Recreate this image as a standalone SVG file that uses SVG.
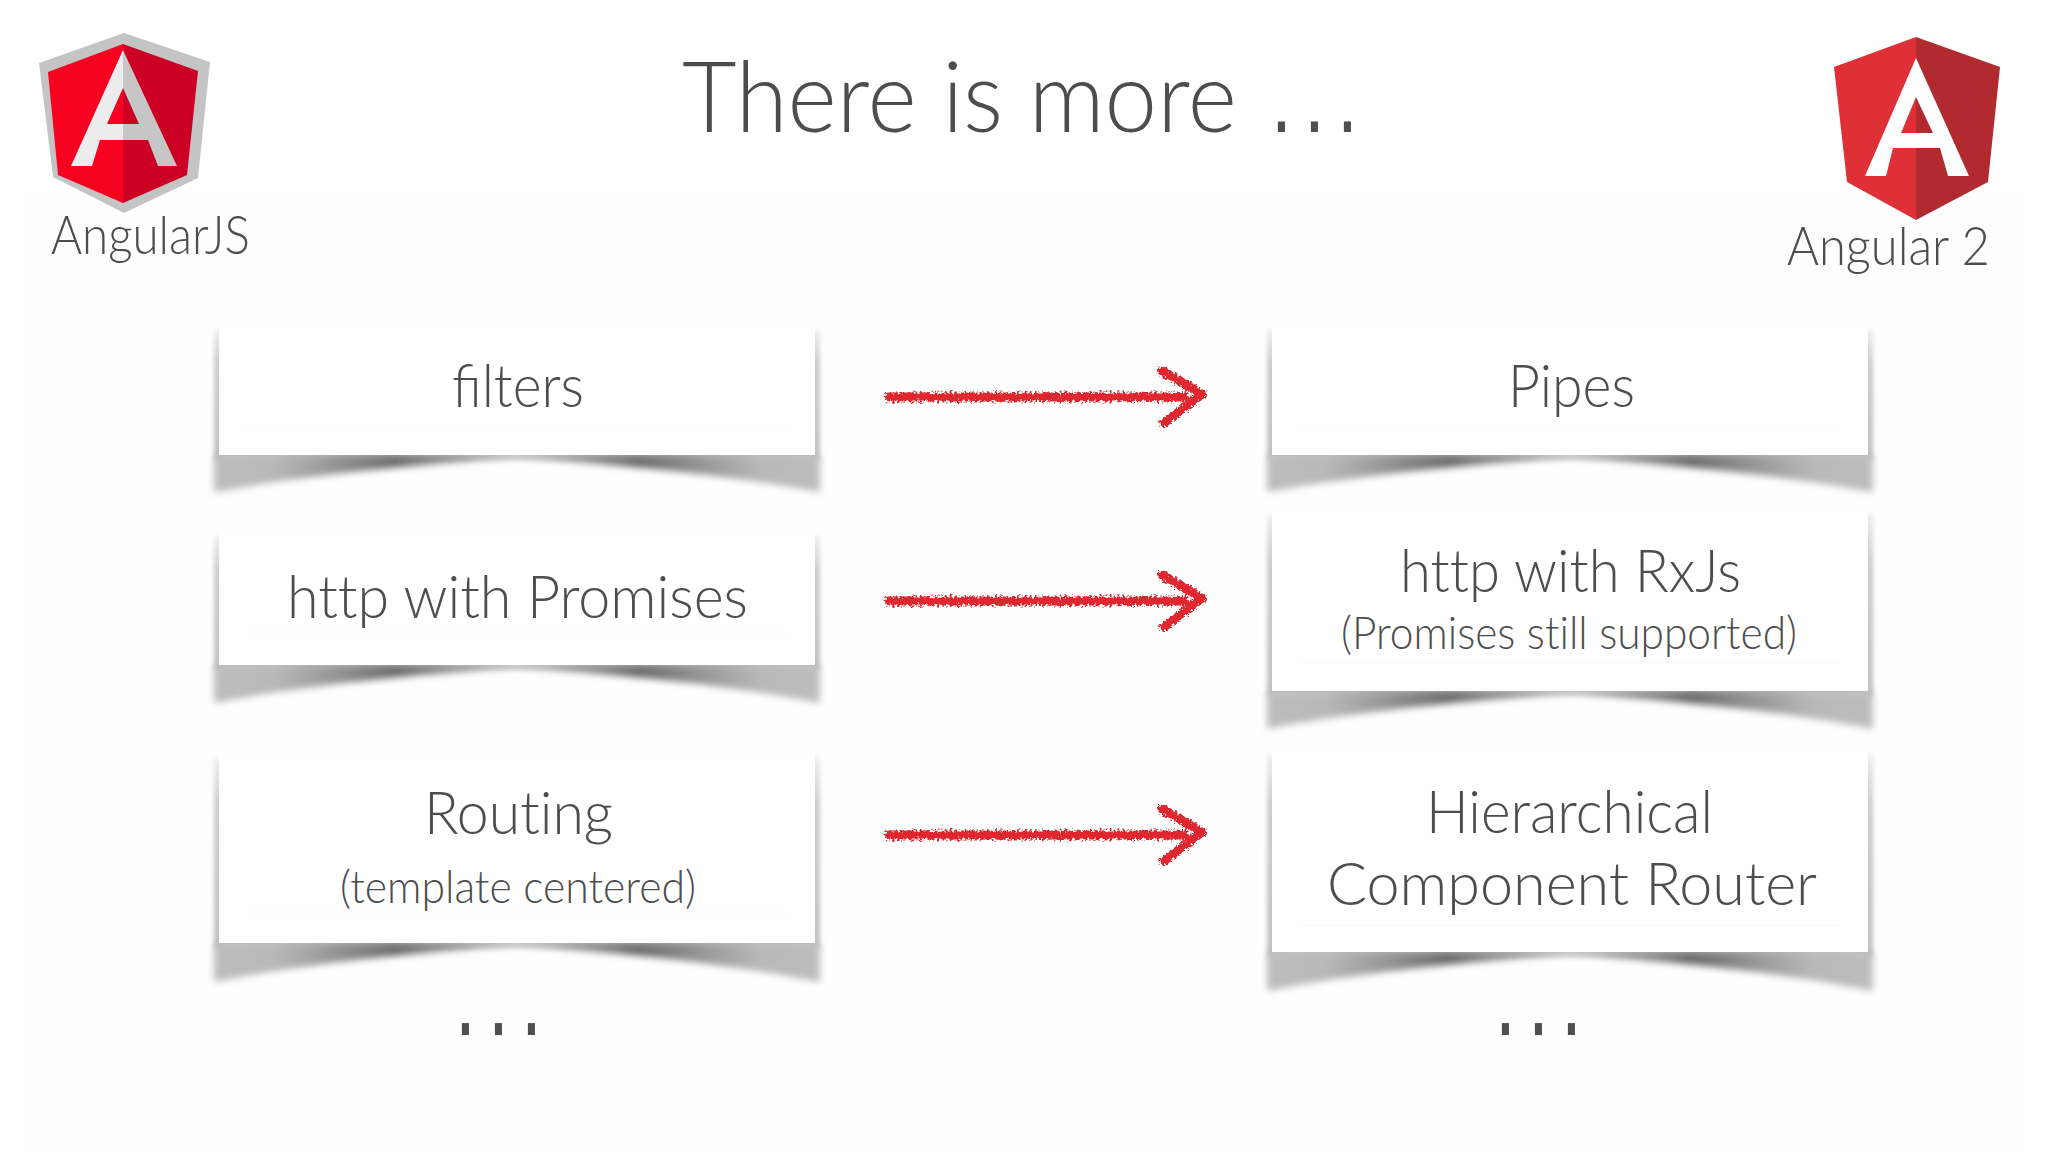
<svg xmlns="http://www.w3.org/2000/svg" width="2048" height="1152" viewBox="0 0 2048 1152">
<style>
text{font-family:"Lato","Open Sans","Liberation Sans",sans-serif;font-weight:300;fill:#4d4d4f;font-variant-ligatures:none}
.lig{font-variant-ligatures:normal}
.t60{font-size:60px}.t44{font-size:45px}.t52{font-size:54px}.t100{font-size:98px}
.dots{font-family:"Liberation Sans",sans-serif;font-weight:700;font-size:50px;letter-spacing:19.1px;fill:#4f4f51}
.box{fill:#fff}
.shadow{fill:url(#sg);filter:url(#b3)}
.side{fill:url(#sd);filter:url(#b2)}
.faint{fill:none;stroke:#fafafa;stroke-width:1}
.arrow{fill:none;stroke:#e0282f;stroke-width:9;stroke-linecap:round;stroke-linejoin:round;filter:url(#rough)}
</style>
<defs>
<linearGradient id="sg" x1="0" x2="1" y1="0" y2="0">
<stop offset="0" stop-color="#bdbdbd"/><stop offset=".1" stop-color="#b8b8b8"/><stop offset=".2" stop-color="#959595"/><stop offset=".3" stop-color="#6a6a6a"/><stop offset=".42" stop-color="#a0a0a0"/><stop offset=".5" stop-color="#dedede"/><stop offset=".58" stop-color="#a0a0a0"/><stop offset=".7" stop-color="#6a6a6a"/><stop offset=".8" stop-color="#959595"/><stop offset=".9" stop-color="#b8b8b8"/><stop offset="1" stop-color="#bdbdbd"/>
</linearGradient>
<linearGradient id="sd" x1="0" x2="0" y1="0" y2="1"><stop offset="0" stop-color="#efefef"/><stop offset=".25" stop-color="#cdcdcd"/><stop offset="1" stop-color="#c0c0c0"/></linearGradient>
<filter id="b3" x="-5%" y="-40%" width="110%" height="180%"><feGaussianBlur stdDeviation="3.5"/></filter>
<filter id="b2" x="-5%" y="-10%" width="110%" height="120%"><feGaussianBlur stdDeviation="2.2"/></filter>
<filter id="rough" x="-5%" y="-20%" width="110%" height="140%"><feTurbulence type="fractalNoise" baseFrequency=".4" numOctaves="2" seed="7" result="n"/><feDisplacementMap in="SourceGraphic" in2="n" scale="9" xChannelSelector="R" yChannelSelector="G"/></filter>
<g id="arrowShape"><path d="M889 397H1184"/><path d="M1162 371L1202 394L1164 423"/></g>
</defs>
<rect width="2048" height="1152" fill="#fff"/>
<rect x="30" y="195" width="1990" height="957" fill="#fefefe"/>

<g id="title">
<text class="t100" x="682" y="132" textLength="555" lengthAdjust="spacingAndGlyphs">There is more</text>
<text class="dots" transform="translate(1274.5 132) scale(1 1.4)">...</text>
</g>

<g id="angularjs">
<path d="M124 33L210 62L198 178L124 213L53 177L39 63Z" fill="#c4c4c4"/>
<path d="M123 44V203L58 175L48 72Z" fill="#f60120"/>
<path d="M123 44L198 71L187 175L123 203Z" fill="#cb0024"/>
<path d="M123 50L71 166H92L100 140H123V124H107L123 88Z" fill="#ececec"/>
<path d="M123 50L177 166H158L148 140H123V124H139L123 88Z" fill="#c6c6c6"/>
<text class="t52" x="51" y="254" textLength="199" lengthAdjust="spacingAndGlyphs">AngularJS</text>
</g>

<g id="angular2">
<path d="M1916 37L1834 67L1847 182L1916 220Z" fill="#e03037"/>
<path d="M1916 37L2000 67L1988 182L1916 220Z" fill="#b02a30"/>
<path d="M1916 58L1865 176H1886L1893 148H1940L1948 176H1969ZM1916 97L1901 133H1933Z" fill="#fff" fill-rule="evenodd"/>
<text class="t52" x="1787" y="265" textLength="203" lengthAdjust="spacingAndGlyphs">Angular 2</text>
</g>

<g id="connectors">
<use href="#arrowShape" class="arrow"/>
<use href="#arrowShape" class="arrow" y="204"/>
<use href="#arrowShape" class="arrow" y="438"/>
</g>

<g id="node-filters">
<rect class="side" x="214" y="330" width="606" height="130"/>
<path class="shadow" d="M214 455H820V492C770 484 700 470 517 458C334 470 264 484 214 492Z"/>
<rect class="box" x="219" y="327" width="596" height="128"/>
<path class="faint" d="M245 427H788"/>
<text class="t60 lig" x="452" y="407" textLength="132" lengthAdjust="spacingAndGlyphs">filters</text>
</g>

<g id="node-pipes">
<rect class="side" x="1267" y="330" width="606" height="130"/>
<path class="shadow" d="M1267 455H1873V492C1823 484 1753 470 1570 458C1387 470 1317 484 1267 492Z"/>
<rect class="box" x="1272" y="327" width="596" height="128"/>
<path class="faint" d="M1298 427H1841"/>
<text class="t60" x="1508" y="407" textLength="127" lengthAdjust="spacingAndGlyphs">Pipes</text>
</g>

<g id="node-http-promises">
<rect class="side" x="214" y="536" width="606" height="134"/>
<path class="shadow" d="M214 665H820V703C770 694 700 680 517 668C334 680 264 694 214 703Z"/>
<rect class="box" x="219" y="533" width="596" height="132"/>
<path class="faint" d="M245 632H788"/>
<text class="t60" x="287" y="618" textLength="461" lengthAdjust="spacingAndGlyphs">http with Promises</text>
</g>

<g id="node-http-rxjs">
<rect class="side" x="1267" y="514" width="606" height="182"/>
<path class="shadow" d="M1267 691H1873V729C1823 720 1753 706 1570 694C1387 706 1317 720 1267 729Z"/>
<rect class="box" x="1272" y="511" width="596" height="180"/>
<path class="faint" d="M1298 662H1841"/>
<text class="t60" x="1400" y="592" textLength="341" lengthAdjust="spacingAndGlyphs">http with RxJs</text>
<text class="t44" x="1341" y="649" textLength="456" lengthAdjust="spacingAndGlyphs">(Promises still supported)</text>
</g>

<g id="node-routing">
<rect class="side" x="214" y="757" width="606" height="191"/>
<path class="shadow" d="M214 943H820V982C770 973 700 958 517 946C334 958 264 973 214 982Z"/>
<rect class="box" x="219" y="754" width="596" height="189"/>
<path class="faint" d="M245 912H788"/>
<text class="t60" x="424" y="834" textLength="189" lengthAdjust="spacingAndGlyphs">Routing</text>
<text class="t44" x="340" y="903" textLength="356" lengthAdjust="spacingAndGlyphs">(template centered)</text>
</g>

<g id="node-router">
<rect class="side" x="1267" y="754" width="606" height="203"/>
<path class="shadow" d="M1267 952H1873V991C1823 982 1753 967 1570 955C1387 967 1317 982 1267 991Z"/>
<rect class="box" x="1272" y="751" width="596" height="201"/>
<path class="faint" d="M1298 925H1841"/>
<text class="t60" x="1426" y="833" textLength="287" lengthAdjust="spacingAndGlyphs">Hierarchical</text>
<text class="t60" x="1327" y="905" textLength="490" lengthAdjust="spacingAndGlyphs">Component Router</text>
</g>

<g id="dots-left"><text class="dots" transform="translate(458.5 1035) scale(1 1.6)">...</text></g>
<g id="dots-right"><text class="dots" transform="translate(1498.5 1035) scale(1 1.6)">...</text></g>
</svg>
